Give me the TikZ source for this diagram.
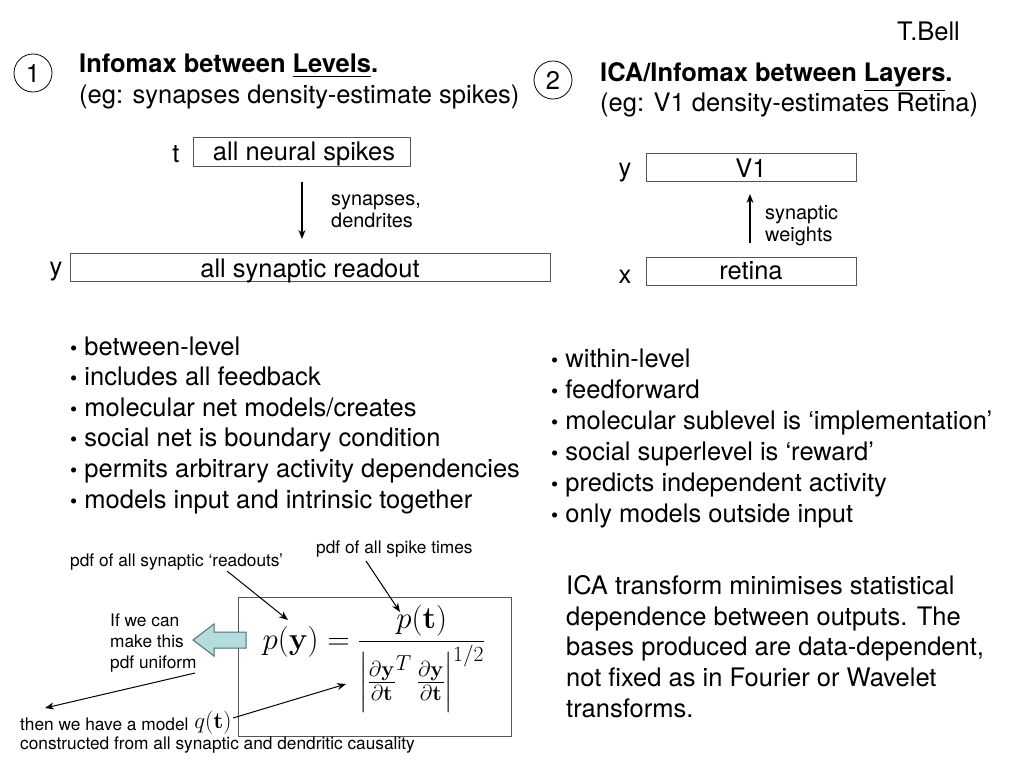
\RequirePackage{fix-cm}
\documentclass[tikz,border=0pt]{standalone}
\usepackage{amsmath}
\usepackage[no-math]{fontspec}
\setmainfont{TeX Gyre Heros}
\usetikzlibrary{arrows.meta}
\definecolor{arrowfill}{HTML}{B4DCDC}
\definecolor{arrowline}{HTML}{4F6F78}
\definecolor{boxline}{HTML}{555555}
\begin{document}
\begin{tikzpicture}[x=1pt,y=-1pt,
  big/.style={font=\fontsize{25.5}{30.7}\selectfont, inner sep=0pt},
  mid/.style={font=\fontsize{19.9}{22}\selectfont, inner sep=0pt},
  small/.style={font=\fontsize{17.3}{20.6}\selectfont, inner sep=0pt},
  oneline/.style={text height=18.4pt, text depth=5.4pt},
  lbl/.style={anchor=west, oneline},
  levelbox/.style={draw=boxline, line width=1pt, inner sep=0pt, text height=21pt, text depth=4pt, font=\fontsize{25.5}{30.6}\selectfont},
  lowtext/.style={text height=22.5pt, text depth=2.5pt},
  numcirc/.style={draw, circle, line width=0.8pt, minimum size=38pt, inner sep=0pt, font=\fontsize{25.5}{30.6}\selectfont},
  conn/.style={-{Stealth[length=9pt,width=7pt]}, line width=1.1pt},
  thinconn/.style={-{Stealth[length=9pt,width=7pt]}, line width=1pt},
  mathnode/.style={inner sep=0pt, font=\fontsize{31}{37}\selectfont},
  qnode/.style={inner sep=0pt, font=\fontsize{23}{27}\selectfont}
]
\useasboundingbox (0,0) rectangle (1024,768);
\fill[white] (0,0) rectangle (1024,768);

% author
\node[big, lbl] (author) at (897,34) {T.Bell};

% section 1 heading
\node[numcirc] (c1) at (33,73) {1};
\node[big, lbl] (h1a) at (79,66) {\textbf{Infomax between \underline{Levels}.}};
\node[big, lbl] (h1b) at (79,97) {(eg: synapses density-estimate spikes)};

% section 2 heading
\node[numcirc] (c2) at (553,80) {2};
\node[big, lbl] (h2a) at (600,75) {\textbf{ICA/Infomax between \underline{Layers}.}};
\node[big, lbl] (h2b) at (600,105) {(eg: V1 density-estimates Retina)};

% level diagram
\node[levelbox, minimum width=217pt, minimum height=29pt] (spk) at (301.5,151.5) {\hspace*{5pt}all neural spikes};
\node[big, oneline] (tl) at (176,156) {t};
\node[levelbox, lowtext, minimum width=480pt, minimum height=28pt] (rd) at (310,267) {all synaptic readout};
\node[big, oneline] (yl) at (56,269) {y};
\coordinate (a1s) at (302,182);
\coordinate (a1e) at (302,239);
\draw[conn] (a1s) -- (a1e);
\node[mid, anchor=west, align=left] (syn) at (331,211) {synapses,\\dendrites};

% layer diagram
\node[levelbox, lowtext, minimum width=210pt, minimum height=28pt] (v1) at (751,167) {V1};
\node[big, oneline] (yl2) at (625,170) {y};
\node[levelbox, minimum width=210pt, minimum height=28pt] (ret) at (751,271) {retina};
\node[big, oneline] (xl) at (625,277) {x};
\coordinate (a2s) at (750,243);
\coordinate (a2e) at (750,194);
\draw[conn] (a2s) -- (a2e);
\node[mid, anchor=west, align=left] (sw) at (765,226) {synaptic\\weights};

% bullet lists
\foreach \t [count=\i] in {{between-level},{includes all feedback},{molecular net models/creates},{social net is boundary condition},{permits arbitrary activity dependencies},{models input and intrinsic together}}
  \node[big, lbl] (L\i) at (70,{348.5+30.6*(\i-1)}) {\scalebox{0.8}{•} \t};
\foreach \t [count=\i] in {{within-level},{feedforward},{molecular sublevel is ‘implementation’},{social superlevel is ‘reward’},{predicts independent activity},{only models outside input}}
  \node[big, lbl] (R\i) at (551,{361+31*(\i-1)}) {\scalebox{0.8}{•} \t};

% paragraph
\node[big, anchor=north west, align=left, font=\fontsize{25.5}{30.8}\selectfont] (para) at (566,575) {ICA transform minimises statistical\\dependence between outputs. The\\bases produced are data-dependent,\\not fixed as in Fourier or Wavelet\\transforms.};

% formula box
\draw[draw=boxline, line width=1pt] (238,597) rectangle (511,736);
\node[mathnode, anchor=base] (eq) at (374,649) {$\displaystyle p(\mathbf{y}) = \frac{p(\mathbf{t})}{\left|\frac{\partial\mathbf{y}}{\partial\mathbf{t}}^{T}\,\frac{\partial\mathbf{y}}{\partial\mathbf{t}}\right|^{1/2}}$};

% annotations
\node[small, anchor=west] (pdfy) at (70,562) {pdf of all synaptic ‘readouts’};
\node[small, anchor=west] (pdft) at (316,549) {pdf of all spike times};
\coordinate (py0) at (227,571);
\coordinate (py) at (288,620);
\coordinate (pt0) at (366,561);
\coordinate (pt) at (400,612);
\draw[thinconn] (py0) -- (py);
\draw[thinconn] (pt0) -- (pt);

\node[small, anchor=west, align=left] (unif) at (110,643) {If we can\\make this\\pdf uniform};
\draw[draw=arrowline, fill=arrowfill, line width=1pt]
  (246,632) -- (214,632) -- (214,624) -- (193,640) -- (214,656) -- (214,648) -- (246,648) -- cycle;

\node[small, anchor=west] (model) at (20,724) {then we have a model};
\node[small, anchor=west] (constr) at (20,745) {constructed from all synaptic and dendritic causality};
\node[qnode] (q) at (213,723) {$q(\mathbf{t})$};
\coordinate (u0) at (195,673);
\coordinate (modtip) at (45,708);
\draw[thinconn] (u0) -- (modtip);
\coordinate (q0) at (233,718);
\coordinate (dentip) at (346,684);
\draw[thinconn] (q0) -- (dentip);
\end{tikzpicture}
\end{document}
